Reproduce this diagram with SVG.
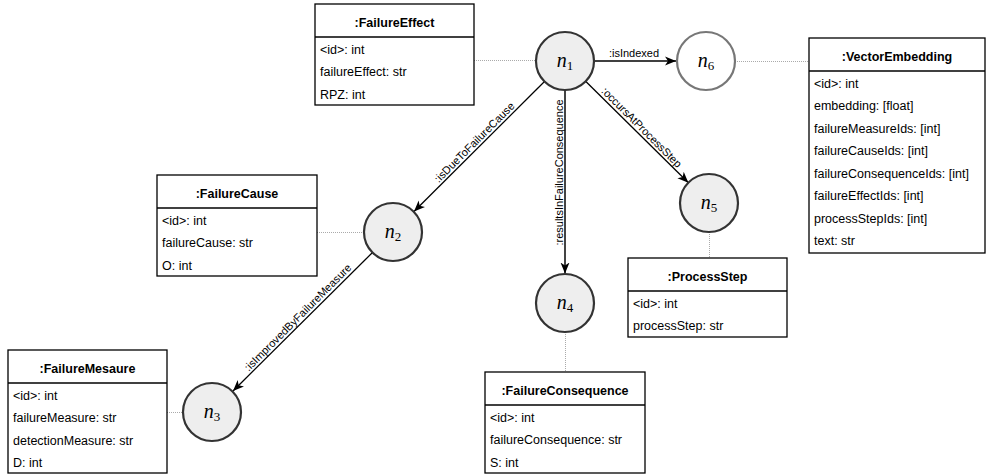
<svg xmlns="http://www.w3.org/2000/svg" width="992" height="475" viewBox="0 0 992 475">
<style>
.box{fill:#fff;stroke:#000;stroke-width:1.3}
.sep{stroke:#000;stroke-width:1.3}
.title{font-family:"Liberation Sans",Arial,sans-serif;font-weight:bold;font-size:12.5px;text-anchor:middle;fill:#000}
.row{font-family:"Liberation Sans",Arial,sans-serif;font-size:12.5px;fill:#000}
.node{fill:#eeeeee;stroke:#333;stroke-width:2.2}
.node6{fill:#fff;stroke:#777;stroke-width:2.2}
.nl{font-family:"Liberation Serif","Times New Roman",serif;font-style:italic;font-size:20px;text-anchor:middle;fill:#000}
.sub{font-style:normal;font-size:13px}
.edge{stroke:#000;stroke-width:1.3;fill:none}
.edgev{stroke:#444;stroke-width:2;fill:none}
.dot{stroke:#aaa;stroke-width:1;stroke-dasharray:1,1;fill:none}
.el{font-family:"Liberation Sans",Arial,sans-serif;font-size:11px;fill:#000;text-anchor:middle}
</style>
<defs>
<marker id="arr" markerUnits="userSpaceOnUse" markerWidth="12" markerHeight="10" refX="11" refY="5" orient="auto">
<path d="M0,0.5 L11,5 L0,9.5 L3,5 z" fill="#000"/>
</marker>
</defs>
<g id="connectors">
<line class="dot" x1="474" y1="60.5" x2="536" y2="60.5"/>
<line class="dot" x1="735" y1="61.5" x2="809" y2="61.5"/>
<line class="dot" x1="317" y1="232.5" x2="364" y2="232.5"/>
<line class="dot" x1="167" y1="412.5" x2="183" y2="412.5"/>
<line class="dot" x1="565.5" y1="332" x2="565.5" y2="372"/>
<line class="dot" x1="709.5" y1="232" x2="709.5" y2="258"/>
<line class="edge" x1="594" y1="61" x2="676" y2="61" marker-end="url(#arr)"/>
<text class="el" x="634" y="57">:isIndexed</text>
<line class="edge" x1="544.5" y1="81.5" x2="414" y2="211.5" marker-end="url(#arr)"/>
<text class="el" transform="translate(477,145) rotate(-45)">:isDueToFailureCause</text>
<line class="edgev" x1="565" y1="90" x2="565" y2="273.5" marker-end="url(#arr)"/>
<text class="el" transform="translate(562.5,172.5) rotate(-90)">:resultsInFailureConsequence</text>
<line class="edge" x1="585.6" y1="81.3" x2="688.4" y2="182.7" marker-end="url(#arr)"/>
<text class="el" transform="translate(639,130) rotate(45)">:occursAtProcessStep</text>
<line class="edge" x1="372.5" y1="252.5" x2="233" y2="391" marker-end="url(#arr)"/>
<text class="el" transform="translate(300.5,320) rotate(-45)">:isImprovedByFailureMeasure</text>
</g>
<g id="n1"><circle class="node" cx="565" cy="61" r="29"/><text class="nl" x="565" y="67">n<tspan class="sub" dy="3">1</tspan></text></g>
<g id="n2"><circle class="node" cx="393" cy="232" r="29"/><text class="nl" x="393" y="238">n<tspan class="sub" dy="3">2</tspan></text></g>
<g id="n3"><circle class="node" cx="212" cy="412" r="29"/><text class="nl" x="212" y="418">n<tspan class="sub" dy="3">3</tspan></text></g>
<g id="n4"><circle class="node" cx="565" cy="303" r="29"/><text class="nl" x="565" y="309">n<tspan class="sub" dy="3">4</tspan></text></g>
<g id="n5"><circle class="node" cx="709" cy="203" r="29"/><text class="nl" x="709" y="209">n<tspan class="sub" dy="3">5</tspan></text></g>
<g id="n6"><circle class="node6" cx="706" cy="61" r="29"/><text class="nl" x="706" y="67">n<tspan class="sub" dy="3">6</tspan></text></g>
<g id="FailureEffect" transform="translate(315,4)">
<rect class="box" x="0" y="0" width="159" height="101"/>
<line class="sep" x1="0" y1="33" x2="159" y2="33"/>
<text class="title" x="79.5" y="22.5">:FailureEffect</text>
<text class="row" x="5" y="49.5">&lt;id&gt;: int</text>
<text class="row" x="5" y="72">failureEffect: str</text>
<text class="row" x="5" y="94.5">RPZ: int</text>
</g>
<g id="VectorEmbedding" transform="translate(809,38)">
<rect class="box" x="0" y="0" width="176" height="215"/>
<line class="sep" x1="0" y1="33" x2="176" y2="33"/>
<text class="title" x="88" y="22.5">:VectorEmbedding</text>
<text class="row" x="5" y="49.5">&lt;id&gt;: int</text>
<text class="row" x="5" y="72">embedding: [float]</text>
<text class="row" x="5" y="94.5">failureMeasureIds: [int]</text>
<text class="row" x="5" y="117">failureCauseIds: [int]</text>
<text class="row" x="5" y="139.5">failureConsequenceIds: [int]</text>
<text class="row" x="5" y="162">failureEffectIds: [int]</text>
<text class="row" x="5" y="184.5">processStepIds: [int]</text>
<text class="row" x="5" y="207">text: str</text>
</g>
<g id="FailureCause" transform="translate(157,175)">
<rect class="box" x="0" y="0" width="160" height="101"/>
<line class="sep" x1="0" y1="33" x2="160" y2="33"/>
<text class="title" x="80" y="22.5">:FailureCause</text>
<text class="row" x="5" y="49.5">&lt;id&gt;: int</text>
<text class="row" x="5" y="72">failureCause: str</text>
<text class="row" x="5" y="94.5">O: int</text>
</g>
<g id="FailureMesaure" transform="translate(8,350)">
<rect class="box" x="0" y="0" width="159" height="123"/>
<line class="sep" x1="0" y1="33" x2="159" y2="33"/>
<text class="title" x="79.5" y="22.5">:FailureMesaure</text>
<text class="row" x="5" y="49.5">&lt;id&gt;: int</text>
<text class="row" x="5" y="72">failureMeasure: str</text>
<text class="row" x="5" y="94.5">detectionMeasure: str</text>
<text class="row" x="5" y="117">D: int</text>
</g>
<g id="ProcessStep" transform="translate(628,258)">
<rect class="box" x="0" y="0" width="159" height="79"/>
<line class="sep" x1="0" y1="33" x2="159" y2="33"/>
<text class="title" x="79.5" y="22.5">:ProcessStep</text>
<text class="row" x="5" y="49.5">&lt;id&gt;: int</text>
<text class="row" x="5" y="72">processStep: str</text>
</g>
<g id="FailureConsequence" transform="translate(485,372)">
<rect class="box" x="0" y="0" width="160" height="101"/>
<line class="sep" x1="0" y1="33" x2="160" y2="33"/>
<text class="title" x="80" y="22.5">:FailureConsequence</text>
<text class="row" x="5" y="49.5">&lt;id&gt;: int</text>
<text class="row" x="5" y="72">failureConsequence: str</text>
<text class="row" x="5" y="94.5">S: int</text>
</g>
</svg>
